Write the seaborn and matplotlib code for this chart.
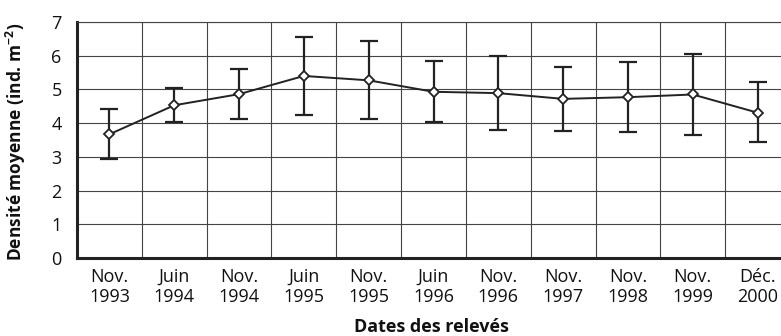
import matplotlib
matplotlib.use("Agg")
import matplotlib.pyplot as plt
import seaborn as sns
import numpy as np
import pandas as pd

categories = ["Nov.\n1993", "Juin\n1994", "Nov.\n1994", "Juin\n1995", "Nov.\n1995",
              "Juin\n1996", "Nov.\n1996", "Nov.\n1997", "Nov.\n1998", "Nov.\n1999", "Déc.\n2000"]
means = [3.67, 4.53, 4.86, 5.40, 5.27, 4.93, 4.89, 4.72, 4.77, 4.85, 4.31]
upper = [4.42, 5.04, 5.62, 6.56, 6.45, 5.84, 5.99, 5.66, 5.80, 6.06, 5.23]
lower = [2.93, 4.03, 4.12, 4.25, 4.12, 4.03, 3.79, 3.76, 3.74, 3.65, 3.43]
yticks = [0, 1, 2, 3, 4, 5, 6, 7]

sns.set_style("white")
plt.rcParams['font.family'] = ['Open Sans', 'DejaVu Sans']
plt.rcParams['mathtext.fontset'] = 'custom'
plt.rcParams['mathtext.rm'] = 'Open Sans'
plt.rcParams['mathtext.bf'] = 'Open Sans:bold'

W, H = 781, 336
fig = plt.figure(figsize=(W / 100, H / 100), dpi=100)
ax = fig.add_axes([77 / W, 78 / H, 713 / W, 236 / H])

pos = np.arange(len(categories))
df = pd.DataFrame({"pos": pos, "mean": means})

err_lo = np.array(means) - np.array(lower)
err_hi = np.array(upper) - np.array(means)
ax.errorbar(pos, means, yerr=[err_lo, err_hi], fmt='none', ecolor='#222222',
            elinewidth=1.6, capsize=6.5, capthick=1.6, zorder=3)
sns.lineplot(data=df, x="pos", y="mean", ax=ax, color='#222222', linewidth=1.4,
             marker='D', markersize=5, markerfacecolor='white',
             markeredgecolor='#222222', markeredgewidth=1.3, zorder=4)

ax.set_xlim(-0.5, len(categories) - 0.5)
ax.set_ylim(0, 7)

ax.set_xticks(np.arange(-0.5, len(categories), 1.0))
ax.set_xticklabels([])
ax.set_xticks(pos, minor=True)
ax.set_xticklabels(categories, minor=True, fontsize=13, linespacing=1.15)
ax.set_yticks(yticks)
ax.set_yticklabels([str(v) for v in yticks], fontsize=13)

ax.grid(True, which='major', color='#444444', linewidth=0.8)
ax.tick_params(axis='x', which='major', length=4, width=1.5, color='#222222', direction='out')
ax.tick_params(axis='x', which='minor', length=0, pad=7, labelcolor='#111111')
ax.tick_params(axis='y', which='major', length=4, width=1.5, color='#222222', direction='out',
               pad=7, labelcolor='#111111')

for s in ['left', 'bottom']:
    ax.spines[s].set_linewidth(2.2)
    ax.spines[s].set_color('#222222')
ax.spines['top'].set_linewidth(0.8)
ax.spines['top'].set_color('#444444')
ax.spines['right'].set_visible(False)

ax.set_xlabel("Dates des relevés", fontsize=13, fontweight='bold', color='#111111')
ax.set_ylabel("Densité moyenne (ind. m$^{\\mathbf{-2}}$)", fontsize=12.5,
              fontweight='bold', color='#111111')
ax.xaxis.set_label_coords((431 - 77) / 713, (258 - 318) / 236)
ax.yaxis.set_label_coords((28 - 77) / 713, 0.49)

fig.savefig("out.png", dpi=100)
